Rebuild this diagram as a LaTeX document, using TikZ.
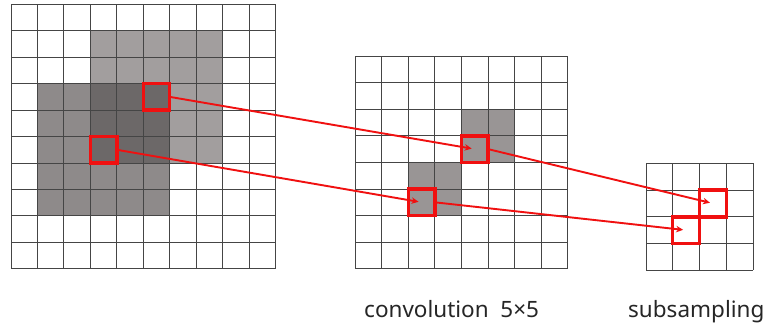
\documentclass[tikz,border=0pt]{standalone}
\usepackage{fontspec}
\setmainfont{Noto Sans}
\usetikzlibrary{arrows.meta}
\definecolor{gridc}{HTML}{454545}
\definecolor{lgray}{HTML}{A29E9E}
\definecolor{mgray}{HTML}{8E8A8A}
\definecolor{dgray}{HTML}{6C6868}
\definecolor{midgray}{HTML}{999595}
\definecolor{redc}{HTML}{F01010}
\tikzset{
  gridline/.style={draw=gridc, line width=1pt},
  redsq/.style={draw=redc, line width=3.4pt, inner sep=0pt, outer sep=0pt},
  arrowline/.style={draw=redc, line width=1.9pt, -{Stealth[length=7pt,width=6.5pt]}, shorten >=3pt},
  lbl/.style={font=\fontsize{22.5}{26}\selectfont, text=black!85, anchor=base west, inner sep=0pt}
}
\begin{document}
\begin{tikzpicture}[x=1pt,y=-1pt]
\useasboundingbox (0,0) rectangle (768,324);
\fill[white] (0,0) rectangle (768,324);
% ---- left grid
\def\Lx{11}\def\Ly{4.3}\def\Lc{26.45}
\fill[lgray] (\Lx+3*\Lc,\Ly+1*\Lc) rectangle (\Lx+8*\Lc,\Ly+6*\Lc);
\fill[mgray] (\Lx+1*\Lc,\Ly+3*\Lc) rectangle (\Lx+6*\Lc,\Ly+8*\Lc);
\fill[dgray] (\Lx+3*\Lc,\Ly+3*\Lc) rectangle (\Lx+6*\Lc,\Ly+6*\Lc);
\foreach \i in {0,...,10} {
  \draw[gridline] (\Lx+\i*\Lc,\Ly) -- (\Lx+\i*\Lc,\Ly+10*\Lc);
  \draw[gridline] (\Lx,\Ly+\i*\Lc) -- (\Lx+10*\Lc,\Ly+\i*\Lc);
}
% ---- middle grid
\def\Mx{355}\def\My{56}\def\Mc{26.6}
\fill[midgray] (\Mx+4*\Mc,\My+2*\Mc) rectangle (\Mx+6*\Mc,\My+4*\Mc);
\fill[midgray] (\Mx+2*\Mc,\My+4*\Mc) rectangle (\Mx+4*\Mc,\My+6*\Mc);
\foreach \i in {0,...,8} {
  \draw[gridline] (\Mx+\i*\Mc,\My) -- (\Mx+\i*\Mc,\My+8*\Mc);
  \draw[gridline] (\Mx,\My+\i*\Mc) -- (\Mx+8*\Mc,\My+\i*\Mc);
}
% ---- right grid
\def\Rx{646}\def\Ry{163.3}\def\Rc{26.75}
\foreach \i in {0,...,4} {
  \draw[gridline] (\Rx+\i*\Rc,\Ry) -- (\Rx+\i*\Rc,\Ry+4*\Rc);
  \draw[gridline] (\Rx,\Ry+\i*\Rc) -- (\Rx+4*\Rc,\Ry+\i*\Rc);
}
% ---- red squares
\node[redsq, minimum size=\Lc pt] (l1) at (\Lx+5.5*\Lc,\Ly+3.5*\Lc) {};
\node[redsq, minimum size=\Lc pt] (l2) at (\Lx+3.5*\Lc,\Ly+5.5*\Lc) {};
\node[redsq, minimum size=\Mc pt] (m1) at (\Mx+4.5*\Mc,\My+3.5*\Mc) {};
\node[redsq, minimum size=\Mc pt] (m2) at (\Mx+2.5*\Mc,\My+5.5*\Mc) {};
\node[redsq, minimum size=\Rc pt] (r1) at (\Rx+2.5*\Rc,\Ry+1.5*\Rc) {};
\node[redsq, minimum size=\Rc pt] (r2) at (\Rx+1.5*\Rc,\Ry+2.5*\Rc) {};
% ---- arrows
\draw[arrowline] (l1.east) -- (m1.center);
\draw[arrowline] (l2.east) -- (m2.center);
\draw[arrowline] (m1.east) -- (r1.center);
\draw[arrowline] (m2.east) -- (r2.center);
% ---- labels
\node[lbl] (conv) at (364,317) {convolution\ \ 5×5};
\node[lbl] (subs) at (628,317) {subsampling};
\end{tikzpicture}
\end{document}
